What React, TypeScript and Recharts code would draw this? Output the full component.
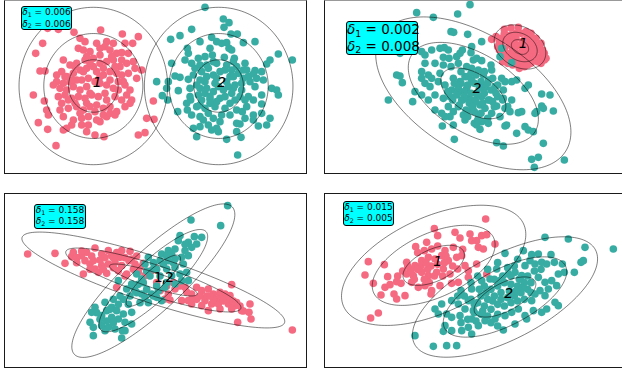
import React from 'react';
import { ScatterChart, Scatter, XAxis, YAxis } from 'recharts';

const PINK = '#f56a80';
const TEAL = '#37aca3';

type P = [number, number];

// ---------- Panel A (top-left) ----------
const A_PINK: P[] = [[143,85],[175,88],[222,97],[302,90],[367,102],[415,110],[240,115],[255,125],[290,130],[320,125],[340,130],[375,130],[398,130],[128,130],[107,160],[235,145],[250,150],[270,155],[300,145],[315,140],[330,150],[350,160],[365,158],[385,160],[400,185],[190,180],[210,195],[230,190],[255,180],[280,175],[300,190],[320,185],[340,180],[360,200],[380,190],[405,205],[425,210],[120,213],[135,213],[170,225],[185,215],[200,230],[220,220],[240,210],[260,205],[290,215],[310,225],[330,215],[350,220],[370,245],[410,235],[170,245],[190,250],[245,240],[265,235],[180,265],[200,270],[220,260],[240,270],[260,260],[300,250],[320,255],[340,265],[355,270],[375,255],[160,255],[100,285],[175,290],[195,285],[215,295],[235,290],[255,295],[275,285],[295,290],[320,300],[345,290],[365,300],[380,285],[395,300],[133,303],[140,330],[145,345],[185,310],[205,325],[230,320],[250,330],[270,320],[290,315],[310,325],[330,320],[350,335],[375,320],[390,310],[180,330],[190,350],[220,360],[245,355],[265,350],[290,360],[320,350],[345,345],[245,375],[265,375],[215,375],[200,385],[300,365],[440,355],[462,358],[460,303],[115,368],[143,388],[190,390],[260,395],[285,405],[312,410],[415,405],[435,398],[168,437],[280,200],[300,230],[230,240],[330,240],[270,280],[250,215],[210,245],[315,280],[225,200],[270,190],[310,205],[345,200],[365,225],[385,220],[195,230],[215,240],[285,245],[355,245],[390,270],[205,300],[225,310],[285,335],[310,345],[330,340],[240,340],[260,310],[335,170],[300,165],[260,170],[365,180]];
const A_TEAL: P[] = [[615,22],[670,57],[687,68],[672,82],[512,118],[540,107],[575,88],[693,102],[712,102],[730,128],[765,125],[635,112],[650,125],[665,130],[680,128],[687,145],[695,150],[600,125],[562,145],[565,160],[630,145],[637,165],[835,162],[877,180],[810,180],[800,192],[515,190],[555,180],[575,190],[595,175],[615,170],[585,205],[673,172],[703,175],[735,190],[765,212],[785,215],[525,228],[540,232],[565,238],[605,215],[625,205],[640,225],[695,210],[715,220],[745,230],[760,222],[790,240],[770,235],[470,245],[505,245],[500,265],[535,272],[570,265],[590,255],[615,245],[645,250],[680,245],[705,255],[725,250],[765,260],[815,265],[830,270],[570,290],[595,285],[615,280],[640,275],[670,270],[695,280],[720,290],[745,290],[785,285],[835,285],[503,300],[572,300],[605,300],[630,298],[660,295],[705,300],[735,300],[785,312],[533,335],[562,330],[590,320],[615,325],[645,320],[675,325],[710,330],[727,335],[575,345],[600,350],[625,340],[760,345],[735,355],[785,340],[810,355],[580,385],[600,380],[625,375],[650,385],[660,365],[710,370],[720,372],[760,360],[775,378],[800,375],[590,410],[635,390],[655,395],[680,418],[710,395],[723,412],[713,465],[620,230],[650,235],[660,215],[690,230],[700,265],[620,265],[655,260],[685,260],[600,240],[630,290],[675,290],[650,305],[690,310],[725,270],[740,210],[620,195],[650,190],[680,195],[710,200],[487,287],[600,195],[640,185],[700,185],[730,210],[750,245],[600,265],[580,225],[630,310],[600,315],[560,310],[690,345],[740,320],[760,300],[665,345],[640,355],[610,360],[700,230],[730,235],[675,210]];

// ---------- Panel B (top-right) ----------
const B_PINK: P[] = [[542,118],[555,110],[580,88],[600,84],[622,82],[645,95],[660,100],[570,130],[565,150],[575,165],[590,180],[605,195],[625,205],[640,200],[660,190],[680,185],[690,170],[695,150],[690,130],[675,115],[655,120],[600,105],[615,115],[585,120],[580,145],[595,160],[610,175],[630,185],[650,175],[670,165],[680,150],[670,130],[640,120],[620,135],[605,145],[625,160],[645,150],[660,145],[615,100],[575,185],[700,180],[590,110],[605,125],[630,100],[650,110],[665,115],[685,140],[595,135],[610,155],[635,150],[655,160],[645,170],[620,170],[600,170],[585,160],[590,190],[615,190],[650,195],[665,180],[675,170],[700,160],[705,175],[560,140],[570,115],[635,125],[615,140],[600,130],[640,140],[655,135],[630,170],[665,150],[580,100],[640,185],[690,190],[565,125]];
const B_TEAL: P[] = [[317,38],[367,52],[440,42],[477,14],[420,95],[428,97],[470,103],[267,160],[332,155],[342,165],[362,150],[387,145],[400,143],[412,150],[397,172],[414,175],[437,170],[447,160],[454,150],[482,140],[480,158],[487,180],[342,190],[372,190],[397,195],[420,200],[442,190],[467,200],[482,205],[257,225],[267,228],[332,215],[352,225],[362,235],[387,220],[274,248],[342,250],[332,235],[357,260],[382,245],[402,255],[427,235],[447,245],[462,230],[482,240],[422,270],[442,265],[467,265],[312,275],[332,285],[352,300],[372,285],[397,295],[417,290],[437,285],[452,300],[472,295],[490,300],[232,300],[305,305],[372,330],[392,340],[412,320],[427,335],[442,320],[457,345],[482,330],[417,350],[402,350],[394,378],[427,375],[462,360],[490,370],[430,418],[512,125],[572,145],[567,170],[602,188],[497,175],[512,182],[540,195],[542,210],[517,225],[532,240],[502,210],[572,235],[582,245],[602,245],[617,240],[642,265],[652,255],[522,262],[552,260],[577,270],[497,280],[512,290],[532,300],[602,300],[577,295],[692,282],[717,285],[507,315],[522,325],[557,318],[582,325],[597,335],[622,338],[632,335],[692,318],[697,325],[727,333],[672,340],[677,335],[502,345],[542,340],[567,350],[512,365],[532,370],[587,375],[582,378],[642,380],[652,390],[667,395],[617,400],[507,388],[497,375],[557,428],[577,438],[697,430],[662,478],[682,472],[760,480],[670,502],[450,250],[470,255],[490,250],[510,245],[460,275],[480,280],[500,285],[520,280],[540,270],[455,300],[475,310],[495,305],[515,310],[535,300],[560,290],[470,230],[495,225],[520,215],[545,235],[440,280],[425,300],[445,315],[465,330],[490,335],[510,340],[550,320],[560,255],[575,300],[590,320],[530,355],[500,360],[470,350],[430,250],[410,275],[450,215],[480,220],[530,250],[555,280],[545,305],[485,320],[460,290],[505,265]];

// ---------- Panel C (bottom-left) ----------
const C_PINK: P[] = [[83,204],[165,202],[195,232],[215,212],[220,199],[245,209],[260,199],[285,186],[305,204],[325,194],[335,209],[365,194],[390,196],[360,214],[255,224],[270,234],[285,249],[305,239],[325,234],[345,229],[365,239],[387,224],[405,234],[420,244],[280,224],[250,264],[295,259],[320,262],[355,254],[380,264],[415,259],[435,269],[455,254],[395,219],[430,232],[350,304],[375,270],[695,296],[480,314],[505,324],[525,309],[555,304],[545,344],[575,324],[590,304],[495,339],[510,342],[565,344],[605,314],[625,309],[640,324],[660,319],[675,324],[690,329],[685,354],[705,359],[615,344],[635,354],[655,354],[625,374],[605,359],[575,354],[750,354],[725,374],[747,379],[753,399],[713,409],[877,432],[660,369],[695,369],[620,330],[650,340],[680,340],[700,345],[440,258],[520,290],[540,300],[560,318],[580,338],[730,375],[230,215],[300,222],[340,215],[310,250],[340,245],[400,250],[660,335],[600,330],[640,340],[710,350],[245,195],[275,210],[315,215],[350,200],[375,215],[410,210],[270,250],[230,230],[590,340],[630,330],[670,345],[720,360],[500,300],[470,290]];
const C_TEAL: P[] = [[445,214],[435,234],[460,249],[410,264],[425,279],[395,294],[355,284],[380,309],[405,314],[425,324],[435,334],[455,324],[315,349],[335,364],[350,374],[320,374],[285,364],[275,379],[305,389],[335,394],[370,384],[395,379],[270,409],[280,424],[305,419],[325,424],[345,429],[375,409],[395,414],[375,434],[280,449],[315,434],[367,434],[365,456],[355,399],[683,59],[573,102],[662,119],[605,154],[583,152],[540,149],[535,164],[565,169],[590,174],[575,184],[555,194],[525,189],[505,194],[485,204],[565,209],[545,214],[525,219],[505,224],[480,224],[550,234],[525,244],[500,249],[560,259],[540,264],[515,269],[565,284],[545,284],[525,294],[495,304],[475,314],[485,344],[470,334],[470,250],[450,270],[430,290],[410,320],[390,330],[370,340],[395,300],[470,300],[500,210],[520,230],[480,270],[500,290],[460,330],[440,310],[420,350],[445,350],[360,330],[340,340],[300,400],[330,370],[555,175],[515,205],[490,235],[460,230],[440,255],[415,295],[385,355],[355,355],[320,405],[340,410],[290,380]];

// ---------- Panel D (bottom-right) ----------
const D_PINK: P[] = [[172,227],[162,267],[187,292],[220,236],[230,272],[222,304],[210,327],[237,296],[257,287],[270,292],[249,324],[282,329],[257,339],[202,381],[179,396],[370,128],[380,149],[347,169],[314,182],[340,194],[362,189],[402,194],[427,184],[447,156],[432,139],[477,144],[482,164],[287,229],[297,249],[312,239],[332,224],[352,214],[372,219],[392,209],[412,224],[437,214],[452,209],[287,264],[307,269],[332,259],[352,269],[377,259],[397,249],[417,264],[440,249],[462,239],[302,289],[322,304],[342,299],[362,314],[387,299],[422,292],[442,289],[472,274],[360,324],[472,254],[524,99],[512,149],[527,146],[497,164],[502,184],[517,189],[552,174],[497,234],[527,264],[330,240],[360,240],[350,250],[320,250],[300,255],[380,235],[400,230],[370,270],[340,280],[310,280],[290,240],[320,200],[345,230],[395,270],[405,210],[425,240],[275,255],[260,270],[355,290],[380,180],[455,190]];
const D_TEAL: P[] = [[450,314],[482,309],[422,344],[442,354],[472,344],[462,369],[487,374],[392,354],[372,369],[382,384],[407,384],[422,394],[447,389],[482,399],[402,419],[422,434],[452,434],[472,424],[482,444],[312,449],[367,481],[407,479],[437,479],[397,436],[702,154],[772,159],[822,184],[907,189],[582,202],[637,194],[662,206],[682,204],[720,206],[642,239],[657,224],[672,234],[692,229],[707,234],[730,229],[754,234],[742,264],[760,259],[790,259],[810,229],[817,224],[557,249],[592,264],[612,259],[632,269],[567,284],[537,279],[512,284],[682,274],[702,289],[722,284],[737,299],[712,309],[687,314],[672,324],[702,329],[732,349],[742,359],[662,344],[667,374],[692,379],[707,369],[642,389],[647,399],[612,414],[577,432],[622,369],[602,379],[582,389],[552,399],[522,404],[502,419],[520,300],[540,310],[560,300],[580,290],[600,295],[620,300],[640,290],[660,290],[510,330],[530,340],[550,330],[570,320],[590,335],[610,330],[630,320],[650,310],[500,350],[520,360],[540,370],[560,355],[580,360],[600,350],[620,345],[640,340],[490,380],[510,385],[530,390],[460,330],[480,340],[440,330],[550,280],[575,270],[600,270],[625,280],[650,270],[670,255],[590,245],[610,240],[560,230],[530,250],[500,270],[480,290],[540,410],[560,420],[470,400],[450,410],[495,405],[525,320],[545,345],[570,340],[595,315],[615,315],[635,305],[505,310],[490,355],[515,375],[560,385],[600,320],[660,320],[690,250],[620,220]];

// Gaussian fits: [cx, cy, semi-axis a, semi-axis b, rotation deg]
const A_FITS = [[280, 258, 74.3, 78.7, 0], [656, 258, 74.3, 78.7, 0]];
const B_FITS = [[627, 141, 27.5, 20, 30], [487, 280, 109, 59, 32]];
const C_FITS = [[460, 282, 138, 23, 18], [460, 284, 108, 29.5, -43]];
const D_FITS = [[368, 238, 99, 48, -24.7], [582, 333, 102, 42.3, -27.5]];
const SIGMA_LEVELS = [1, 2, 3];

const A_LABELS = [{ x: 292, y: 245, text: '1', it: true }, { x: 665, y: 245, text: '2', it: true }];
const B_LABELS = [{ x: 637, y: 128, text: '1', it: true }, { x: 498, y: 265, text: '2', it: true }];
const C_LABELS = [{ x: 490, y: 272, text: '1,2', it: false }];
const D_LABELS = [{ x: 380, y: 225, text: '1', it: true }, { x: 593, y: 320, text: '2', it: true }];

const DELTAS = [
  ['0.006', '0.006'],
  ['0.002', '0.008'],
  ['0.158', '0.158'],
  ['0.015', '0.005'],
];

const toPts = (arr: P[]) => arr.map(([x, y]) => ({ x, y }));

function ellipse(f: number[], k: number) {
  const [cx, cy, a, b, deg] = f;
  const phi = (deg * Math.PI) / 180;
  const out: { x: number; y: number }[] = [];
  const n = 160;
  for (let i = 0; i <= n; i++) {
    const t = (i / n) * 2 * Math.PI;
    const u = k * a * Math.cos(t);
    const v = k * b * Math.sin(t);
    out.push({ x: cx + u * Math.cos(phi) - v * Math.sin(phi), y: cy + u * Math.sin(phi) + v * Math.cos(phi) });
  }
  return out;
}

const Dot = (props: any) => <circle cx={props.cx} cy={props.cy} r={3.8} fill={props.fill} />;
const NoDot = () => <g />;
const LabelShape = (props: any) => (
  <text
    x={props.cx}
    y={props.cy}
    textAnchor="middle"
    dominantBaseline="central"
    fontSize={14}
    fontStyle={props.payload.it ? 'italic' : 'normal'}
    fontFamily="DejaVu Sans"
    letterSpacing={props.payload.it ? 0 : -1}
    fill="#000"
  >
    {props.payload.text}
  </text>
);

type PanelProps = {
  left: number; top: number; xd: [number, number]; yd: [number, number];
  pink: P[]; teal: P[]; fits: number[][]; labels: any[];
};

function Panel({ left, top, xd, yd, pink, teal, fits, labels }: PanelProps) {
  return (
    <div style={{ position: 'absolute', left, top, width: 301, height: 173 }}>
      <ScatterChart width={301} height={173} margin={{ top: 0, right: 0, bottom: 0, left: 0 }}>
        <XAxis type="number" dataKey="x" domain={xd} hide allowDataOverflow />
        <YAxis type="number" dataKey="y" domain={yd} reversed hide allowDataOverflow />
        <Scatter data={toPts(pink)} fill={PINK} shape={Dot} isAnimationActive={false} />
        <Scatter data={toPts(teal)} fill={TEAL} shape={Dot} isAnimationActive={false} />
        {fits.flatMap((f, i) =>
          SIGMA_LEVELS.map((k) => (
            <Scatter
              key={`e${i}-${k}`}
              data={ellipse(f, k)}
              line={{ stroke: '#000', strokeOpacity: 0.5, strokeWidth: 1 }}
              lineType="joint"
              shape={NoDot}
              isAnimationActive={false}
            />
          ))
        )}
        <Scatter data={labels} shape={LabelShape} isAnimationActive={false} />
      </ScatterChart>
    </div>
  );
}

function DeltaBox({ left, top, width, height, fs, vals }: any) {
  const sub = { fontSize: '0.7em', position: 'relative' as const, top: '0.3em', fontStyle: 'normal' };
  return (
    <div
      style={{
        position: 'absolute', left, top, width, height, boxSizing: 'border-box',
        background: '#00ffff', border: '1px solid #000', borderRadius: 3,
        fontFamily: 'DejaVu Sans', fontSize: fs, lineHeight: `${(height - 3) / 2}px`,
        padding: '0', textAlign: 'center', color: '#000', whiteSpace: 'nowrap',
      }}
    >
      <div><i>δ</i><span style={sub}>1</span> = {vals[0]}</div>
      <div><i>δ</i><span style={sub}>2</span> = {vals[1]}</div>
    </div>
  );
}

export default function App() {
  const frame = (left: number, top: number, h: number, topColor: string) => (
    <div
      style={{
        position: 'absolute', left, top, width: 303, height: h, boxSizing: 'border-box',
        borderStyle: 'solid', borderWidth: '1.5px', borderColor: '#1a1a1a', borderTopColor: topColor,
        pointerEvents: 'none', zIndex: 5,
      }}
    />
  );
  return (
    <div style={{ position: 'absolute', left: 0, top: 0, width: 622, height: 372, overflow: 'hidden', background: '#fff' }}>
      <Panel left={5} top={-1} xd={[15, 918]} yd={[-3, 516]} pink={A_PINK} teal={A_TEAL} fits={A_FITS} labels={A_LABELS} />
      <Panel left={325} top={-1} xd={[42, 945]} yd={[-3, 516]} pink={B_PINK} teal={B_TEAL} fits={B_FITS} labels={B_LABELS} />
      <Panel left={5} top={194} xd={[15, 918]} yd={[24, 543]} pink={C_PINK} teal={C_TEAL} fits={C_FITS} labels={C_LABELS} />
      <Panel left={325} top={194} xd={[42, 945]} yd={[24, 543]} pink={D_PINK} teal={D_TEAL} fits={D_FITS} labels={D_LABELS} />
      {frame(4, -0.5, 174, '#999')}
      {frame(324, -0.5, 174, '#999')}
      {frame(4, 193, 175, '#1a1a1a')}
      {frame(324, 193, 175, '#1a1a1a')}
      <div style={{ position: 'absolute', left: 0, top: 0, zIndex: 6 }}>
        <DeltaBox left={21} top={6} width={51} height={24} fs={9} vals={DELTAS[0]} />
        <DeltaBox left={346} top={21} width={72} height={34} fs={13.5} vals={DELTAS[1]} />
        <DeltaBox left={34} top={204} width={52} height={25} fs={9} vals={DELTAS[2]} />
        <DeltaBox left={343} top={201} width={51} height={25} fs={9} vals={DELTAS[3]} />
      </div>
    </div>
  );
}
